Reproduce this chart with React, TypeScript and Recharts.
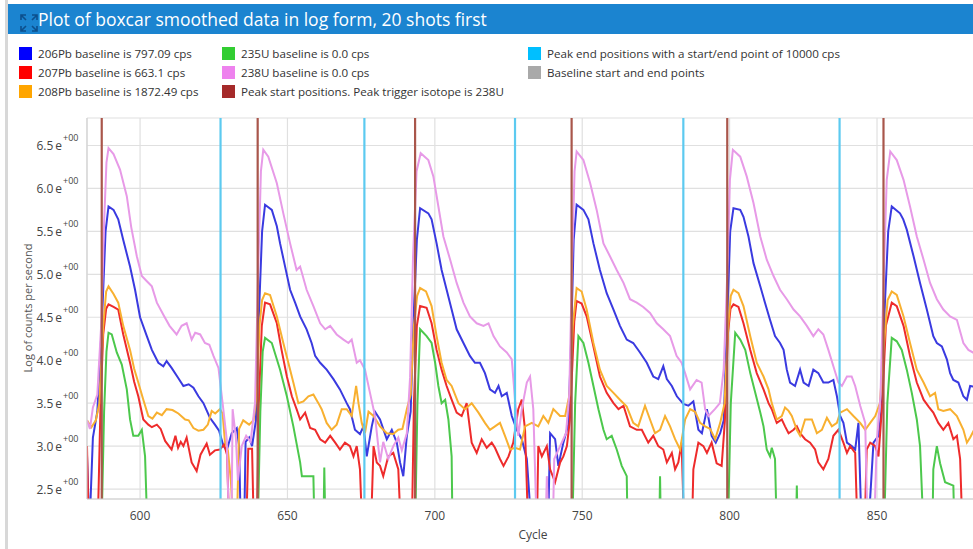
import React from 'react';
import { LineChart, Line, XAxis, YAxis, CartesianGrid, ReferenceLine } from 'recharts';

type Pt = [number, number];

const FONT = '"Open Sans", "Noto Sans", sans-serif';

const titleText = 'Plot of boxcar smoothed data in log form, 20 shots first';
const xTicks = [600, 650, 700, 750, 800, 850];
const yTicks = [2.5, 3.0, 3.5, 4.0, 4.5, 5.0, 5.5, 6.0, 6.5];
const xDomain = [582, 884.6];
const yDomain = [2.384, 6.82];

// peak start (trigger 238U) and peak end cycles
const peakStarts = [587.0, 639.9, 693.3, 746.4, 799.2, 852.2];
const peakEnds = [627.3, 676.1, 727.2, 784.3, 837.3];

// [cycle, log cps]; 2.0 = dropped below the axis
const pb206: Pt[] = [
  [582,2.9],[582.8,2.0],[584,3.1],[585.5,3.4],[587,4.4],[588.3,5.5],[589.3,5.79],[591,5.75],[592.6,5.64],[594.3,5.4],[596.6,5.09],[598.3,4.82],[600,4.5],[602.3,4.28],[604,4.12],[606.2,3.97],[607.9,3.93],[609,3.99],[610.7,3.91],[613,3.79],[614.7,3.7],[616.5,3.72],[618.1,3.68],[619.8,3.58],[621.5,3.5],[623.7,3.33],[625.4,3.25],[626.8,3.18],[628.3,3.0],[629.4,2.95],[631.1,3.15],[632.8,3.21],[633.6,3.0],[634.2,2.0],[635.3,2.0],[635.8,3.05],[637,3.1],[638,3.0],[639.3,3.3],
  [640.4,4.6],[641.4,5.5],[642.4,5.81],[644.7,5.75],[646.4,5.56],[647.5,5.36],[649.2,5.09],[650.9,4.82],[652.6,4.67],[654.3,4.51],[656.5,4.36],[658.2,4.2],[659.4,4.05],[661.1,3.97],[663.3,3.89],[665.6,3.78],[667.8,3.66],[670.1,3.5],[671.2,3.43],[672.9,3.19],[674.6,3.14],[675.8,3.23],[676.9,2.88],[678.6,3.23],[679.7,3.4],[681.4,3.31],[683.7,3.08],[685.4,3.19],[687.1,3.04],[688.2,2.81],[689.3,2.65],[690.5,3.12],[691.8,3.4],
  [692.8,4.5],[693.9,5.4],[695,5.77],[697.8,5.71],[698.9,5.64],[700.6,5.36],[702.3,5.05],[704,4.82],[705.7,4.59],[707.4,4.36],[709.7,4.2],[711.9,4.05],[713.6,3.97],[715.3,3.97],[717,3.85],[718.7,3.66],[720.4,3.62],[721.6,3.7],[722.7,3.58],[724.4,3.62],[726.1,3.35],[727.8,3.19],[729.5,3.08],[731.2,2.85],[732.9,2.0],[738.4,2.0],[739.1,3.15],[740.8,3.08],[741.9,2.77],[743.6,3.04],[745.3,3.25],
  [746.2,4.2],[747.1,5.4],[748.1,5.81],[750.4,5.75],[752.1,5.64],[753.8,5.36],[756,5.05],[758.3,4.78],[760.6,4.59],[762.8,4.4],[765.1,4.24],[767.3,4.2],[769.6,4.09],[771.9,3.97],[774.1,3.81],[775.8,3.78],[777.5,3.93],[778.7,3.78],[780.4,3.7],[782.1,3.58],[784.3,3.49],[786,3.47],[787.7,3.52],[789.4,3.19],[790.6,3.15],[792.3,3.43],[793.9,3.12],[795.3,3.04],[796.8,3.15],[798,3.3],
  [799.2,4.5],[800.2,5.5],[801.3,5.77],[803.6,5.75],[804.7,5.67],[806.4,5.44],[808.1,5.13],[810.4,4.86],[812,4.67],[813.7,4.47],[815.4,4.28],[817.1,4.2],[818.3,4.12],[819.4,3.89],[820.5,3.74],[822.2,3.7],[823.9,3.89],[825.1,3.74],[826.8,3.7],[828.4,3.89],[830.1,3.85],[831.8,3.74],[833.5,3.74],[835.2,3.77],[836.4,3.58],[837.5,3.35],[838.6,3.27],[839.8,3.04],[841.4,3.0],[842.6,2.96],[843.7,3.27],[844.8,2.0],[847,2.0],[848.8,3.04],[850.5,3.12],[851.5,3.4],
  [852.6,4.6],[853.8,5.5],[855,5.79],[857.8,5.71],[858.9,5.64],[860.1,5.52],[862.4,5.21],[864.6,4.9],[866.9,4.59],[869.1,4.28],[870.3,4.2],[872,4.16],[873.7,4.01],[874.8,3.85],[875.9,3.77],[877.6,3.74],[879.3,3.58],[880.5,3.54],[881.6,3.7],[884.6,3.68],
];

const pb207: Pt[] = [
  [582,3.0],[582.6,2.0],[585.6,2.0],[586.6,3.5],[587.5,4.3],[588.5,4.6],[589.3,4.65],[591,4.62],[592.6,4.59],[594.3,4.3],[596.6,3.97],[598,3.75],[599.4,3.58],[601.1,3.31],[602.8,3.25],[604,3.22],[605.7,3.25],[607,3.2],[608.5,3.06],[610.7,2.96],[612,3.12],[612.9,2.98],[613.8,3.05],[614.7,3.0],[615.8,3.1],[617.5,2.81],[619.2,2.71],[620.5,2.9],[622.6,3.03],[623.7,2.9],[625.4,2.95],[627.1,2.96],[628.5,3.02],[629.5,2.9],[630.3,2.0],[636,2.0],[636.7,2.97],[638,2.97],[638.6,2.0],[639.6,2.0],
  [640.3,3.5],[641.3,4.4],[642.4,4.67],[644.1,4.65],[646.4,4.43],[648,4.12],[649.8,3.81],[651.5,3.58],[653.1,3.43],[654.3,3.31],[656,3.39],[657.7,3.21],[659.4,3.19],[661.1,3.08],[662.8,3.04],[664.5,3.12],[666.2,3.04],[667.8,2.96],[669.5,3.04],[671.2,3.0],[672.4,2.88],[673.5,3.0],[674.6,2.73],[675.4,2.0],[678.3,2.0],[679.2,3.0],[680.3,2.81],[681.4,2.77],[682.5,2.65],[684.2,2.88],[685.9,2.92],[687.6,2.73],[688.5,2.0],[692.2,2.0],
  [692.9,3.5],[693.9,4.4],[695,4.63],[697.2,4.61],[698.9,4.43],[700.6,4.12],[702.3,3.89],[704,3.7],[705.7,3.54],[707.4,3.39],[709.1,3.35],[710.8,3.5],[712.5,3.04],[714.2,2.92],[715.9,3.08],[717.6,2.98],[719.3,3.04],[720.4,2.98],[722.1,2.85],[723.3,2.77],[725,2.88],[726.6,3.04],[728.3,3.43],[729.5,3.54],[730.6,3.19],[731.7,2.0],[734.6,2.0],[735.1,3.0],[736.3,2.88],[738,3.0],[739.1,2.73],[740.8,2.58],[742.5,2.81],[743.6,2.88],[744.8,3.0],[745.8,3.3],
  [746.6,3.9],[747.3,4.45],[748.1,4.69],[749.8,4.66],[751.5,4.51],[753.8,4.16],[756,3.81],[758.3,3.62],[760.6,3.5],[762.3,3.43],[764,3.47],[766.2,3.23],[768.5,3.19],[770.2,3.19],[772.4,3.04],[774.1,3.12],[775.8,3.0],[777.5,2.96],[778.7,2.81],[780.4,2.92],[781.5,2.73],[782.6,2.81],[783.7,3.04],[784.6,2.0],[787.2,2.0],[787.7,2.73],[789.4,3.04],[791.1,3.0],[792.3,2.92],[793.9,3.04],[795.6,2.8],[797.3,2.77],[798.4,3.3],
  [799.4,4.3],[800.3,4.6],[801.3,4.65],[803,4.62],[804.7,4.43],[807,4.12],[809.2,3.85],[811.5,3.66],[813.2,3.5],[814.3,3.43],[816,3.27],[817.7,3.31],[818.8,3.23],[820,3.15],[821.7,3.19],[822.8,3.23],[823.9,3.15],[825.6,3.08],[827.3,3.04],[829,2.96],[830.1,2.81],[831.8,2.73],[833.5,2.85],[835.2,3.12],[836.9,3.19],[838.6,3.04],[839.8,2.92],[840.9,3.0],[842.6,2.92],[843.4,2.0],[845.8,2.0],[846.5,2.96],[847.7,3.04],[849.4,3.0],[850.5,2.88],[851.8,3.5],
  [853,4.4],[855,4.67],[856.7,4.63],[859,4.4],[861.2,4.05],[863.5,3.74],[865.8,3.54],[867.5,3.46],[869.1,3.39],[870.8,3.27],[872.5,3.19],[874.2,3.27],[875.9,3.08],[877.1,3.12],[878.2,2.85],[879,2.0],[884.6,2.0],
];

const pb208: Pt[] = [
  [582,3.3],[583.5,3.22],[585,3.3],[586.2,3.5],[587.5,4.4],[588.5,4.8],[589.3,4.86],[591,4.77],[592.6,4.67],[594.3,4.4],[596.6,4.12],[598,3.9],[599.4,3.74],[601.1,3.54],[602.8,3.35],[604.2,3.32],[605.7,3.39],[607.4,3.36],[609,3.43],[611,3.42],[613,3.38],[615.3,3.31],[616.5,3.3],[618.1,3.21],[619.8,3.18],[621.5,3.19],[623,3.25],[624.3,3.41],[625.5,3.38],[627.1,3.43],[628,3.38],[628.8,3.05],[629.8,2.95],[630.8,2.6],[631.8,2.0],[632.8,2.0],[633.6,3.2],[635,3.3],[637,3.25],[638.5,3.3],[639.6,3.6],
  [640.5,4.4],[641.4,4.7],[642.4,4.78],[644.1,4.76],[646.4,4.51],[648.6,4.2],[650.3,3.97],[652,3.74],[653.7,3.5],[655.4,3.52],[657.1,3.58],[658.8,3.6],[660.5,3.5],[661.6,3.43],[663.3,3.27],[665,3.19],[666.7,3.25],[668.4,3.43],[670.1,3.43],[671.8,3.35],[673.3,3.7],[674.1,3.5],[675.2,3.27],[676.3,3.15],[677.5,3.4],[679.2,3.35],[681.4,3.23],[683.7,3.15],[685.9,3.14],[687.6,3.19],[689,3.2],[690.5,3.43],[691.8,3.6],
  [692.9,4.4],[694,4.75],[695,4.84],[697,4.8],[698.9,4.63],[700.6,4.28],[702.3,3.97],[704,3.77],[705.7,3.7],[708,3.5],[710.2,3.43],[712.5,3.5],[714.8,3.39],[717,3.27],[718.7,3.19],[720.4,3.23],[722.1,3.27],[723.8,3.12],[725.5,2.96],[727.2,2.98],[728.9,2.96],[730.6,3.23],[732.9,3.27],[735.1,3.23],[736.8,3.35],[738.5,3.27],[740.2,3.43],[742.5,3.35],[744.2,3.35],[745.7,3.6],
  [746.8,4.4],[748.1,4.84],[749.8,4.8],[751.5,4.59],[753.8,4.2],[756,3.89],[758.3,3.7],[760.6,3.62],[762.8,3.54],[765.1,3.46],[767.3,3.27],[769,3.23],[771.3,3.47],[773,3.31],[774.7,3.15],[776.4,3.19],[778.1,3.35],[779.8,3.23],[781.5,3.08],[783.2,2.96],[784.9,3.31],[786.6,3.43],[788.3,3.4],[790,3.27],[791.7,3.23],[793.4,3.2],[795.1,3.08],[796.8,3.27],[798.3,3.5],
  [799.5,4.4],[800.4,4.75],[801.3,4.82],[803,4.78],[804.7,4.63],[807,4.28],[809.2,3.97],[811.5,3.81],[813.2,3.66],[814.3,3.5],[816,3.31],[817.7,3.35],[818.8,3.45],[820,3.41],[821.1,3.35],[822.8,3.19],[823.9,3.12],[825.6,3.31],[827.9,3.31],[829.6,3.15],[831.3,3.19],[833,3.33],[834.7,3.23],[836.4,3.27],[837.5,3.39],[839.8,3.43],[842,3.35],[844.3,3.27],[846,3.19],[847.7,3.27],[849.4,3.35],[851,3.5],
  [852.4,4.2],[853.6,4.7],[855,4.8],[856.7,4.76],[859,4.51],[861.2,4.2],[863.5,3.89],[865.8,3.74],[868,3.58],[869.7,3.62],[870.8,3.43],[872.5,3.41],[874.8,3.43],[877.1,3.35],[879.3,3.19],[880.5,3.04],[881.6,3.1],[884.6,3.3],
];

const u235: Pt[] = [
  [582,2.0],[586.9,2.0],[587.8,3.4],[588.6,4.1],[589.3,4.32],[590.4,4.3],[592.1,4.09],[593.8,3.95],[595.5,3.66],[596.6,3.31],[597.7,3.12],[599.4,3.12],[600.6,3.19],[601.7,2.88],[602.5,2.0],
  [639.9,2.0],[640.8,3.4],[641.6,4.1],[642.4,4.26],[644.7,4.2],[647.5,3.89],[649.8,3.58],[652,3.23],[654.3,2.81],[654.9,2.65],[658.8,2.65],[659.2,2.0],[662.2,2.0],[662.5,2.75],[662.9,2.0],
  [693.3,2.0],[694.1,3.5],[695,4.36],[697.2,4.28],[698.9,4.2],[700.1,3.97],[701.2,3.7],[702.3,3.5],[703.5,3.54],[704.6,3.31],[705.7,2.88],[706,2.0],
  [746.6,2.0],[747.6,3.5],[748.7,4.28],[750.4,4.2],[752.1,3.97],[753.8,3.7],[755.5,3.43],[757.2,3.19],[758.3,3.08],[760,3.12],[761.7,2.96],[763.4,2.77],[765.1,2.65],[765.4,2.0],[776.1,2.0],[776.4,2.65],[776.7,2.0],
  [799.4,2.0],[800.4,3.5],[801.9,4.32],[803.6,4.24],[805.3,4.12],[807,3.85],[808.7,3.62],[810.4,3.39],[811.5,3.23],[812.6,2.96],[813.7,2.88],[814.3,2.98],[815.4,2.85],[816,2.0],[822.5,2.0],[822.8,2.54],[823.1,2.0],
  [852.4,2.0],[853.5,3.5],[855,4.26],[856.7,4.22],[858.4,4.12],[860.1,3.89],[861.8,3.62],[863.5,3.31],[864.6,3.0],[865.8,2.0],[868.8,2.0],[869.1,2.73],[870.3,3.0],[871.4,2.8],[873.1,2.58],[875.9,2.54],[876.3,2.0],[884.6,2.0],
];

const u238: Pt[] = [
  [582,3.3],[583,3.2],[584,3.45],[585.5,3.6],[586.8,4.4],[587.8,5.6],[588.6,6.3],[589.3,6.47],[591,6.4],[593.2,6.22],[595.5,5.91],[597,5.55],[598.9,5.21],[600.6,4.98],[602.3,4.92],[604,4.86],[605.7,4.67],[607.9,4.53],[610,4.4],[612.4,4.3],[614.1,4.4],[615.8,4.43],[617.5,4.24],[618.7,4.32],[620.4,4.3],[622,4.2],[623.5,4.18],[624.9,4.05],[626.6,3.91],[628,3.5],[629.4,3.08],[630.2,2.0],[631,2.0],[631.4,3.43],[632.5,3.1],[633.2,2.6],[634.5,3.0],[636,3.12],[637.5,3.05],[639,3.5],
  [640.2,5.2],[641,6.2],[641.8,6.45],[643.5,6.37],[646.4,6.06],[648.6,5.71],[650.9,5.36],[653.1,5.05],[654.3,5.09],[656.5,4.82],[658.8,4.63],[661.1,4.43],[662.8,4.36],[664.5,4.4],[666.7,4.3],[669,4.24],[670.7,4.2],[671.8,4.24],[673.5,3.97],[674.6,4.0],[676.3,3.89],[678,3.62],[679.7,3.35],[681.4,2.81],[682.5,3.05],[684.2,2.85],[685.9,3.0],[687.6,3.1],[688.8,2.95],[690.5,3.15],[691.6,3.8],
  [692.6,5.2],[693.8,6.2],[695.2,6.41],[697.8,6.33],[699.5,6.14],[701.2,5.79],[702.9,5.44],[705.2,5.17],[707.4,4.9],[709.7,4.67],[711.9,4.51],[714.2,4.43],[716.5,4.4],[718.2,4.43],[719.9,4.28],[722.1,4.16],[724.4,4.09],[726.1,4.01],[727.2,3.54],[728.3,3.12],[729.5,3.43],[731.2,3.74],[732.3,3.81],[733.4,3.43],[734.6,2.0],[737.5,2.0],[738,2.65],[738.6,2.0],[740,2.0],[740.5,2.85],[742.5,3.0],[744.5,3.15],[745.6,3.6],
  [746.6,5.2],[747.4,6.2],[748.1,6.43],[750.4,6.33],[752.7,6.06],[754.9,5.75],[757.2,5.36],[759.4,5.21],[761.7,5.05],[764,4.9],[766.2,4.71],[768.5,4.67],[770.7,4.62],[773,4.55],[775.3,4.43],[777.5,4.36],[779.8,4.28],[782,4.05],[783.7,3.97],[784.9,3.85],[786.6,3.66],[788.8,3.77],[790.5,3.74],[791.7,3.43],[792.8,3.35],[795,3.43],[796.7,3.5],[798,3.9],
  [799.2,5.0],[800.1,6.1],[801.1,6.45],[803.6,6.37],[805.8,6.14],[808.1,5.83],[810.4,5.44],[812.6,5.17],[814.9,4.98],[817.1,4.82],[819.4,4.71],[821.7,4.59],[823.9,4.51],[826.2,4.4],[828.4,4.28],[830.1,4.36],[831.8,4.3],[833.5,4.12],[835.2,3.93],[836.9,3.74],[838.1,3.7],[839.8,3.81],[841.4,3.81],[842.6,3.7],[844.3,3.47],[846,3.27],[846.8,2.0],[849,2.0],[849.9,3.04],[851.2,3.6],
  [852.3,5.0],[853.3,6.1],[854.5,6.43],[856.7,6.33],[859,6.1],[861.2,5.79],[863.5,5.44],[865.8,5.17],[868,4.9],[870.3,4.71],[872.5,4.59],[874.8,4.51],[877.1,4.47],[879.3,4.2],[881,4.12],[884.6,4.05],
];

const series = [
  { name: '206Pb', color: '#3a3ae0', points: pb206 },
  { name: '207Pb', color: '#ee2b2b', points: pb207 },
  { name: '208Pb', color: '#f8b030', points: pb208 },
  { name: '235U', color: '#4cc84c', points: u235 },
  { name: '238U', color: '#e79ae7', points: u238 },
];

const legendCols = [
  [
    { label: '206Pb baseline is 797.09 cps', color: '#0000ff' },
    { label: '207Pb baseline is 663.1 cps', color: '#ff0000' },
    { label: '208Pb baseline is 1872.49 cps', color: '#ffa500' },
  ],
  [
    { label: '235U baseline is 0.0 cps', color: '#32cd32' },
    { label: '238U baseline is 0.0 cps', color: '#ee82ee' },
    { label: 'Peak start positions. Peak trigger isotope is 238U', color: '#a52a2a' },
  ],
  [
    { label: 'Peak end positions with a start/end point of 10000 cps', color: '#00bfff' },
    { label: 'Baseline start and end points', color: '#a9a9a9' },
  ],
];
const legendColX = [19, 222, 528];

const toRows = (pts: Pt[]) => pts.map(([cycle, value]) => ({ cycle, value }));

const YTick = (props: any) => {
  const { x, y, payload } = props;
  return (
    <g fill="#444" fontFamily={FONT}>
      <text x={x - 25} y={y + 5} textAnchor="end" fontSize={12}>
        {payload.value.toFixed(1)}
        <tspan dx={2}>e</tspan>
      </text>
      <text x={x - 24} y={y - 4} textAnchor="start" fontSize={9}>
        +00
      </text>
    </g>
  );
};

const XTick = (props: any) => {
  const { x, y, payload } = props;
  return (
    <text x={x} y={y + 21} textAnchor="middle" fontSize={12} fill="#444" fontFamily={FONT}>
      {payload.value}
    </text>
  );
};

const ExpandIcon = () => (
  <svg width={18} height={18} viewBox="0 0 18 18" style={{ position: 'absolute', left: 12, top: 10 }}>
    <g stroke="#0d4f8c" strokeWidth={1.6} fill="none">
      <path d="M1 6 V1 H6 M1 1 L6 6" />
      <path d="M12 1 H17 V6 M17 1 L12 6" />
      <path d="M1 12 V17 H6 M1 17 L6 12" />
      <path d="M17 12 V17 H12 M17 17 L12 12" />
    </g>
  </svg>
);

export default function App() {
  return (
    <div style={{ position: 'absolute', left: 0, top: 0, width: 973, height: 549, overflow: 'hidden', background: '#fff', fontFamily: FONT }}>
      <div style={{ position: 'absolute', left: 5, top: 0, width: 3, height: 549, background: '#d8d8d8' }} />
      <div style={{ position: 'absolute', left: 8, top: 4, width: 965, height: 30, background: '#1b84d0' }}>
        <ExpandIcon />
        <div style={{ position: 'absolute', left: 30, top: 3, color: '#fff', fontSize: 17.5, whiteSpace: 'nowrap', lineHeight: '24px' }}>
          {titleText}
        </div>
      </div>

      {legendCols.map((col, ci) =>
        col.map((item, ri) => (
          <div key={`${ci}-${ri}`} style={{ position: 'absolute', left: legendColX[ci], top: 46 + ri * 19, height: 14, display: 'flex', alignItems: 'center', whiteSpace: 'nowrap' }}>
            <span style={{ display: 'inline-block', width: 13, height: 13, background: item.color, marginRight: 6 }} />
            <span style={{ fontSize: 11.6, color: '#333' }}>{item.label}</span>
          </div>
        ))
      )}

      <div style={{ position: 'absolute', left: 27, top: 308, transform: 'translate(-50%, -50%) rotate(-90deg)', fontSize: 11, color: '#555', whiteSpace: 'nowrap' }}>
        Log of counts per second
      </div>

      <div style={{ position: 'absolute', left: 0, top: 0 }}>
        <LineChart width={990} height={549} margin={{ top: 118, right: 11, bottom: 0, left: 7 }}>
          <CartesianGrid stroke="#e0e0e0" strokeWidth={1.2} />
          <XAxis
            dataKey="cycle"
            type="number"
            domain={xDomain}
            ticks={xTicks}
            allowDataOverflow
            height={50}
            tickSize={0}
            tickMargin={0}
            tickLine={false}
            axisLine={{ stroke: '#cfcfcf' }}
            tick={<XTick />}
            label={{ value: 'Cycle', position: 'insideBottom', offset: 10, fill: '#444', fontSize: 12, fontFamily: FONT }}
          />
          <XAxis xAxisId="top" orientation="top" type="number" domain={xDomain} height={0} tick={false} tickLine={false} axisLine={{ stroke: '#cfcfcf' }} />
          <YAxis
            type="number"
            domain={yDomain}
            ticks={yTicks}
            allowDataOverflow
            width={80}
            tickSize={0}
            tickMargin={0}
            tickLine={false}
            axisLine={{ stroke: '#cfcfcf' }}
            tick={<YTick />}
          />
          {series.map((s) => (
            <Line
              key={s.name}
              data={toRows(s.points)}
              dataKey="value"
              name={s.name}
              type="linear"
              stroke={s.color}
              strokeWidth={2}
              dot={false}
              activeDot={false}
              isAnimationActive={false}
            />
          ))}
          {peakStarts.map((c) => (
            <ReferenceLine key={`s${c}`} x={c} stroke="#a9564b" strokeWidth={2.2} />
          ))}
          {peakEnds.map((c) => (
            <ReferenceLine key={`e${c}`} x={c} stroke="#5ccaf0" strokeWidth={2.2} />
          ))}
        </LineChart>
      </div>
    </div>
  );
}
